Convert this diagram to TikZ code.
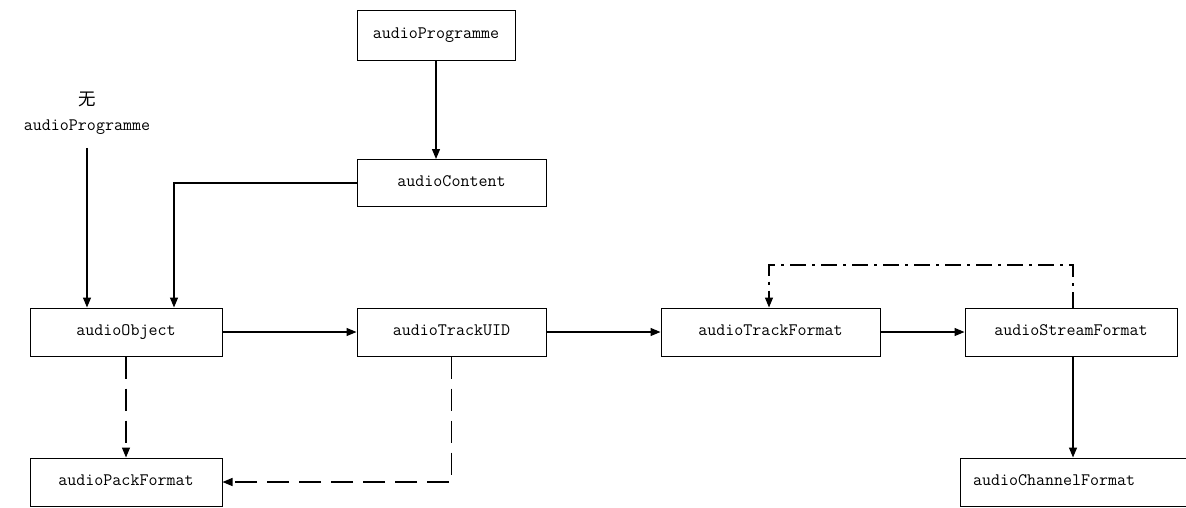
\documentclass[tikz,border=0pt]{standalone}
\usepackage{fontspec}
\newfontfamily\cjk{Noto Sans CJK SC}
\usetikzlibrary{arrows.meta,calc}
\tikzset{>={Triangle[length=10pt,width=8pt]}}

\begin{document}
\begin{tikzpicture}[x=1pt,y=-1pt,
                    box/.style={draw,line width=1pt,minimum height=48pt,inner sep=0,
                                text height=1.8ex,text depth=.3ex,
                                font=\ttfamily\fontsize{17.5}{21}\selectfont},
                    link/.style={->,line width=1.3pt},
                    optlink/.style={->,line width=1.3pt,dash pattern=on 22pt off 10pt},
                    backlink/.style={->,line width=1.3pt,dash pattern=on 16pt off 6pt on 3pt off 6pt}
        ]
    \clip (0,0) rectangle (1186,507);
    \node[box,minimum width=158pt,minimum height=50pt] (prog) at (436,35) {audioProgramme};
    \node[box,minimum width=189pt,minimum height=47pt] (content) at (451.5,183) {audioContent};
    \node[font=\ttfamily\fontsize{17.5}{25}\selectfont,align=center] (noprog) at (87,113) {{\cjk 无}\\audioProgramme};
    \node[box,minimum width=192pt] (object) at (126,332) {audioObject};
    \node[box,minimum width=189pt] (trackuid) at (451.5,332) {audioTrackUID};
    \node[box,minimum width=219pt] (trackfmt) at (770.5,332) {audioTrackFormat};
    \node[box,minimum width=212pt] (streamfmt) at (1071,332) {audioStreamFormat};
    \node[box,minimum width=192pt] (packfmt) at (126,482) {audioPackFormat};
    \node[box,minimum width=240pt,text width=214pt] (channelfmt) at (1080,482) {audioChannelFormat};
\path[link]
    (object) edge (trackuid)
    (trackuid) edge (trackfmt)
    (trackfmt) edge (streamfmt);
\draw[link] (prog.south) -- (prog.south |- content.north);
\draw[link] ($(noprog.south)+(0,10)$) -- (object.north -| noprog.south);
\draw[link] (content.west) -| (174,0 |- object.north);
\draw[link] (streamfmt.south -| 1073,0) -- (channelfmt.north -| 1073,0);
\draw[backlink] (streamfmt.north -| 1073,0) |- (769,265) -- (trackfmt.north -| 769,0);
\draw[optlink] (object.south) -- (packfmt.north);
\draw[optlink] (trackuid.south) |- (packfmt.east);
\end{tikzpicture}
\end{document}
